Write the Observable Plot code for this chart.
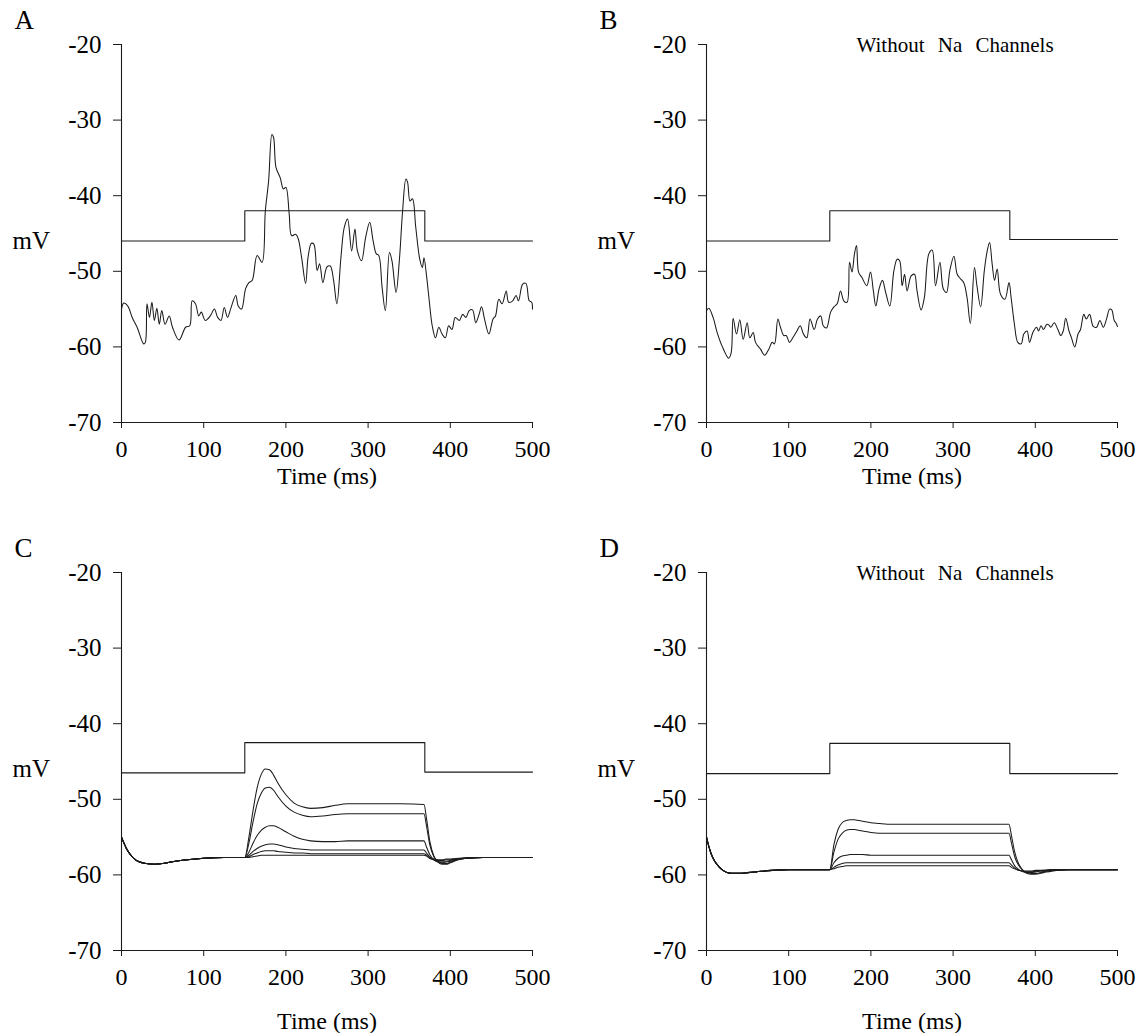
<!DOCTYPE html>
<html><head><meta charset="utf-8">
<script src="https://cdn.jsdelivr.net/npm/d3@7"></script>
<script src="https://cdn.jsdelivr.net/npm/@observablehq/plot@0.6"></script>
<style>
body{margin:0;background:#fff;}
#fig{position:relative;width:1138px;height:1033px;overflow:hidden;background:#fff;}
.panel{position:absolute;}
</style></head><body><div id="fig"></div>
<script>
// ---------- labels ----------
const panelLetters = ["A", "B", "C", "D"];
const xLabel = "Time (ms)";
const yLabel = "mV";
const noteLabel = "Without Na Channels";
const xTicks = [0, 100, 200, 300, 400, 500];
const yTicks = [-70, -60, -50, -40, -30, -20];

// ---------- stimulus (step) ----------
const stimTimes = [0, 150, 369, 500];
const stimA = [-46, -42, -46, -46];
const stimB = [-46, -42, -45.8, -45.8];
const stimC = [-46.5, -42.5, -46.4, -46.4];
const stimD = [-46.6, -42.6, -46.6, -46.6];

// ---------- Panel A trace ----------
const aTime = [0,2.8,7.7,13,19,27,29,31,34,37,40,43,46,49,53,58,62,70,78,83,86,90,94,97,102,108,113,117,121,125,129,133,139,142,146,151,155,159,165,171,175,179,183,185,188,193,197,200,204,207,212,215,219,224,227,231,234,238,241,245,250,254,258,262,267,271,275,280,284,287,292,297,302,306,310,313,317,321,326,329,334,338,342,346,348,351,354,358,363,366,368,371,374,378,382,386,390,394,398,402,406,411,415,419,423,427,431,435,438,442,447,452,455,459,463,468,471,476,480,483,488,492,496,499,500];
const aVolt = [-55.0,-54.2,-54.6,-56.1,-57.4,-59.6,-59.4,-54.3,-56.1,-54.1,-56.5,-54.9,-57.0,-55.2,-57.0,-55.9,-57.4,-59.1,-57.4,-57.2,-53.9,-54.3,-55.9,-55.4,-56.5,-55.9,-55.0,-56.1,-56.5,-54.8,-56.1,-54.9,-53.2,-54.6,-55.0,-52.3,-51.5,-51.2,-47.9,-48.8,-42.0,-38.0,-31.9,-32.3,-36.3,-37.6,-39.1,-38.9,-42.4,-45.3,-45.1,-45.7,-48.1,-51.6,-48.1,-46.3,-46.4,-49.9,-49.0,-51.5,-49.4,-49.3,-51.2,-54.3,-48.1,-44.2,-43.1,-47.3,-44.4,-47.3,-48.6,-45.5,-43.5,-45.9,-47.7,-47.9,-52.1,-55.2,-47.5,-48.6,-52.8,-48.6,-42.0,-37.8,-38.2,-40.7,-40.4,-44.2,-48.5,-49.5,-48.2,-50.5,-53.5,-57.2,-58.8,-57.4,-58.3,-58.8,-57.2,-57.7,-56.1,-56.5,-55.7,-56.1,-55.2,-55.1,-56.8,-55.7,-54.7,-56.5,-58.3,-56.3,-55.9,-53.7,-54.3,-52.6,-54.1,-53.9,-53.2,-53.9,-51.7,-51.6,-53.9,-54.1,-55.0];

// ---------- Panel B trace ----------
const bTime = [0,2.8,8,13,19,27,30,32.4,36.5,40.5,44.6,49.5,52.7,56.8,59.6,65.7,70.6,75.8,79.9,82.7,86.8,90,94,97,101,105,110,114,118,122,126,131,135,139,142,146,151,155,159,163,167,171,174,177,180,182.5,185,189,195,199.5,203,206,210,214,218,223,228,232,235,238,241,244,249,253,256,261,265,270.5,274.6,278.6,284,288,292,296,301,305,309,313,317,321,326,329,333.5,338,341.5,344.4,347.5,350.4,353.6,357.6,363,368,370.6,374.6,378.7,382.8,386,390,393,397,401.5,404,407,410,414,416.5,419,423,427.5,431,434,437,441,444,448,452,455,459,462,466,470.5,474.5,478.6,482.7,486.7,490.4,493,496,498,500];
const bVolt = [-55.2,-54.9,-56.1,-58.1,-59.9,-61.5,-60.8,-56.2,-58.3,-56.4,-59.0,-56.8,-58.8,-58.1,-59.4,-60.3,-61.1,-60.3,-59.4,-59.6,-56.3,-57.4,-58.5,-58.5,-59.4,-58.8,-57.9,-57.2,-58.3,-58.8,-56.3,-57.7,-56.3,-55.9,-57.2,-57.5,-55.4,-54.7,-54.3,-52.6,-53.9,-54.1,-48.8,-50.1,-47.7,-46.6,-50.1,-50.8,-51.9,-50.1,-52.6,-54.6,-52.3,-51.2,-52.8,-54.6,-49.9,-48.4,-48.6,-51.9,-50.4,-52.6,-50.6,-50.4,-52.5,-55.1,-53.5,-47.7,-47.2,-51.9,-48.8,-52.3,-52.8,-49.9,-48.0,-50.4,-51.0,-51.5,-53.5,-56.9,-49.5,-51.9,-54.7,-49.9,-47.3,-46.2,-49.0,-51.2,-49.7,-53.0,-53.7,-51.5,-53.5,-57.0,-59.4,-59.6,-58.3,-57.9,-59.4,-58.1,-57.4,-57.9,-57.2,-57.7,-57.0,-57.1,-57.4,-56.8,-57.7,-58.5,-57.9,-56.2,-57.9,-58.8,-60.0,-58.3,-57.7,-55.7,-56.3,-55.7,-57.3,-57.4,-56.5,-57.4,-56.3,-55.0,-55.1,-56.5,-56.8,-57.3];

// ---------- Panels C & D traces (shared time base) ----------
const cdTime = [0,3,6,10,15,20,30,40,50,60,80,100,125,150,155,160,165,170,175,180,185,190,200,210,220,230,245,260,275,300,340,368,371,375,380,385,390,395,400,410,420,440,470,500];
const c1 = [-55.0,-55.8,-56.5,-57.2,-57.8,-58.2,-58.5,-58.6,-58.5,-58.3,-58.0,-57.8,-57.7,-57.7,-55.0,-51.5,-48.5,-46.7,-46.0,-46.1,-46.8,-47.8,-49.4,-50.5,-51.0,-51.2,-51.1,-50.8,-50.6,-50.6,-50.6,-50.7,-52.5,-55.5,-57.5,-58.3,-58.6,-58.6,-58.4,-58.0,-57.8,-57.7,-57.7,-57.7];
const c2 = [-55.0,-55.8,-56.5,-57.2,-57.8,-58.2,-58.5,-58.6,-58.5,-58.3,-58.0,-57.8,-57.7,-57.7,-55.8,-53.0,-50.6,-49.2,-48.5,-48.4,-48.8,-49.6,-50.9,-51.7,-52.1,-52.3,-52.2,-52.0,-51.9,-51.9,-51.9,-51.9,-53.5,-56.0,-57.6,-58.2,-58.5,-58.5,-58.3,-57.9,-57.8,-57.7,-57.7,-57.7];
const c3 = [-55.0,-55.8,-56.5,-57.2,-57.8,-58.2,-58.5,-58.6,-58.5,-58.3,-58.0,-57.8,-57.7,-57.7,-57.0,-55.8,-54.8,-54.1,-53.7,-53.5,-53.5,-53.7,-54.3,-54.9,-55.3,-55.5,-55.6,-55.6,-55.5,-55.5,-55.5,-55.5,-56.3,-57.3,-58.0,-58.3,-58.4,-58.3,-58.2,-57.9,-57.8,-57.7,-57.7,-57.7];
const c4 = [-55.0,-55.8,-56.5,-57.2,-57.8,-58.2,-58.5,-58.6,-58.5,-58.3,-58.0,-57.8,-57.7,-57.7,-57.4,-56.9,-56.5,-56.2,-56.0,-55.9,-55.9,-56.0,-56.3,-56.5,-56.6,-56.7,-56.7,-56.7,-56.7,-56.7,-56.7,-56.7,-57.1,-57.6,-58.0,-58.2,-58.2,-58.2,-58.1,-57.9,-57.8,-57.7,-57.7,-57.7];
const c5 = [-55.0,-55.8,-56.5,-57.2,-57.8,-58.2,-58.5,-58.6,-58.5,-58.3,-58.0,-57.8,-57.7,-57.7,-57.6,-57.3,-57.1,-56.9,-56.8,-56.8,-56.8,-56.9,-57.0,-57.1,-57.1,-57.2,-57.2,-57.2,-57.2,-57.2,-57.2,-57.2,-57.4,-57.8,-58.0,-58.1,-58.1,-58.0,-58.0,-57.9,-57.8,-57.7,-57.7,-57.7];
const c6 = [-55.0,-55.8,-56.5,-57.2,-57.8,-58.2,-58.5,-58.6,-58.5,-58.3,-58.0,-57.8,-57.7,-57.7,-57.7,-57.6,-57.5,-57.4,-57.4,-57.4,-57.4,-57.4,-57.4,-57.4,-57.4,-57.4,-57.4,-57.4,-57.4,-57.4,-57.4,-57.4,-57.5,-57.8,-57.9,-58.0,-58.0,-57.9,-57.9,-57.8,-57.7,-57.7,-57.7,-57.7];
const d1 = [-55.0,-56.3,-57.3,-58.2,-58.9,-59.4,-59.8,-59.8,-59.7,-59.6,-59.4,-59.3,-59.3,-59.3,-56.0,-54.0,-53.1,-52.8,-52.7,-52.7,-52.8,-52.9,-53.1,-53.2,-53.3,-53.3,-53.3,-53.3,-53.3,-53.3,-53.3,-53.3,-54.8,-57.0,-58.6,-59.4,-59.8,-59.9,-59.9,-59.7,-59.5,-59.3,-59.3,-59.3];
const d2 = [-55.0,-56.3,-57.3,-58.2,-58.9,-59.4,-59.8,-59.8,-59.7,-59.6,-59.4,-59.3,-59.3,-59.3,-57.0,-55.3,-54.5,-54.1,-54.0,-54.0,-54.1,-54.2,-54.4,-54.5,-54.5,-54.5,-54.5,-54.5,-54.5,-54.5,-54.5,-54.5,-55.8,-57.6,-58.8,-59.4,-59.7,-59.8,-59.8,-59.6,-59.4,-59.3,-59.3,-59.3];
const d3 = [-55.0,-56.3,-57.3,-58.2,-58.9,-59.4,-59.8,-59.8,-59.7,-59.6,-59.4,-59.3,-59.3,-59.3,-58.4,-57.8,-57.5,-57.4,-57.3,-57.3,-57.3,-57.3,-57.4,-57.4,-57.4,-57.4,-57.4,-57.4,-57.4,-57.4,-57.4,-57.4,-58.0,-58.8,-59.3,-59.6,-59.7,-59.7,-59.6,-59.5,-59.4,-59.3,-59.3,-59.3];
const d4 = [-55.0,-56.3,-57.3,-58.2,-58.9,-59.4,-59.8,-59.8,-59.7,-59.6,-59.4,-59.3,-59.3,-59.3,-59.0,-58.7,-58.5,-58.4,-58.4,-58.4,-58.4,-58.4,-58.4,-58.4,-58.4,-58.4,-58.4,-58.4,-58.4,-58.4,-58.4,-58.4,-58.7,-59.1,-59.4,-59.5,-59.6,-59.6,-59.5,-59.4,-59.3,-59.3,-59.3,-59.3];
const d5 = [-55.0,-56.3,-57.3,-58.2,-58.9,-59.4,-59.8,-59.8,-59.7,-59.6,-59.4,-59.3,-59.3,-59.3,-59.2,-59.0,-58.9,-58.8,-58.8,-58.8,-58.8,-58.8,-58.8,-58.8,-58.8,-58.8,-58.8,-58.8,-58.8,-58.8,-58.8,-58.8,-59.0,-59.2,-59.4,-59.5,-59.5,-59.5,-59.4,-59.4,-59.3,-59.3,-59.3,-59.3];

// ---------- helpers ----------
const FONT = "'Liberation Serif', 'Times New Roman', serif";
const INK = "#1b1b1b";
function toRows(time, seriesList) {
  return seriesList.flatMap((vals, k) => time.map((t, i) => ({t, v: vals[i], id: k})));
}

const panels = [
  {letter: panelLetters[0], left: 0, top: 0, height: 510, mL: 121, mR: 37, mT: 44, mB: 88, titleDy: 61,
   traces: toRows(aTime, [aVolt]), curve: "catmull-rom", stim: stimA, note: false},
  {letter: panelLetters[1], left: 569, top: 0, height: 510, mL: 137, mR: 21, mT: 44, mB: 88, titleDy: 61,
   traces: toRows(bTime, [bVolt]), curve: "catmull-rom", stim: stimB, note: true},
  {letter: panelLetters[2], left: 0, top: 528, height: 505, mL: 121, mR: 37, mT: 44, mB: 83, titleDy: 78,
   traces: toRows(cdTime, [c1, c2, c3, c4, c5, c6]), curve: "monotone-x", stim: stimC, note: false},
  {letter: panelLetters[3], left: 569, top: 528, height: 505, mL: 137, mR: 21, mT: 44, mB: 83, titleDy: 78,
   traces: toRows(cdTime, [d1, d2, d3, d4, d5]), curve: "monotone-x", stim: stimD, note: true}
];

const fig = document.getElementById("fig");
for (const p of panels) {
  const stimRows = stimTimes.map((t, i) => ({t, v: p.stim[i]}));
  const marks = [
    Plot.ruleX([0], {y1: yTicks[0], y2: yTicks[yTicks.length - 1], stroke: INK, strokeWidth: 1.1}),
    Plot.ruleY([yTicks[0]], {x1: xTicks[0], x2: xTicks[xTicks.length - 1], stroke: INK, strokeWidth: 1.1}),
    Plot.axisY({ticks: yTicks, tickSize: 8, tickPadding: 12, tickFormat: d => String(d), label: null, stroke: INK, fill: "#000"}),
    Plot.axisX({ticks: xTicks, tickSize: 6, tickPadding: 11, tickFormat: d => String(d), label: null, stroke: INK, fill: "#000", fontSize: 24}),
    Plot.line(stimRows, {x: "t", y: "v", curve: "step-after", stroke: INK, strokeWidth: 1.1}),
    Plot.line(p.traces, {x: "t", y: "v", z: "id", curve: p.curve, stroke: INK, strokeWidth: 1.05}),
    Plot.text([p.letter], {frameAnchor: "top-left", dx: -107, dy: -35, textAnchor: "start", fontSize: 27, fill: "#000"}),
    Plot.text([yLabel], {frameAnchor: "left", dx: -109, dy: 7, textAnchor: "start", fontSize: 25, fill: "#000"}),
    Plot.text([xLabel], {frameAnchor: "bottom", dy: p.titleDy, fontSize: 24, fill: "#000"})
  ];
  if (p.note) marks.push(Plot.text([noteLabel], {frameAnchor: "top-left", dx: 150, dy: -7, textAnchor: "start", fontSize: 21, fill: "#000"}));
  const svg = Plot.plot({
    width: 569, height: p.height,
    marginLeft: p.mL, marginRight: p.mR, marginTop: p.mT, marginBottom: p.mB,
    x: {domain: [0, 500], axis: null},
    y: {domain: [-70, -20], axis: null},
    style: {fontFamily: FONT, fontSize: "25px", background: "transparent", color: "#000", overflow: "visible"},
    marks
  });
  for (const el of svg.querySelectorAll("text")) {
    if (el.textContent === noteLabel) el.style.wordSpacing = "8px";
  }
  const wrap = document.createElement("div");
  wrap.className = "panel";
  wrap.style.left = p.left + "px";
  wrap.style.top = p.top + "px";
  wrap.appendChild(svg);
  fig.appendChild(wrap);
}
</script>
</body></html>
